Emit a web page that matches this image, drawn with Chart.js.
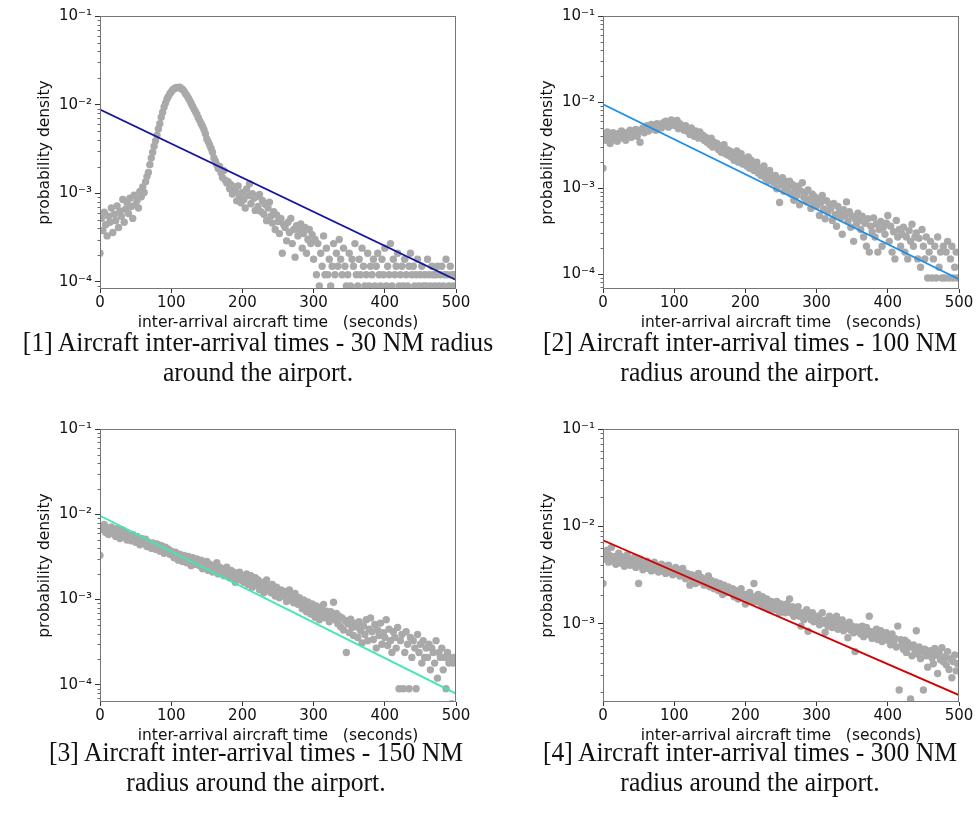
<!DOCTYPE html>
<html>
<head>
<meta charset="utf-8">
<script src="https://cdn.jsdelivr.net/npm/chart.js@4.4.0/dist/chart.umd.min.js"></script>
<style>
  body { margin: 0; background: #fff; }
  #page { position: relative; width: 978px; height: 822px; overflow: hidden; background: #fff; }
  .panel { position: absolute; width: 475px; height: 340px; }
  .caption {
    position: absolute; width: 600px; text-align: center; white-space: nowrap;
    font-family: "Liberation Serif", serif; font-size: 27px; line-height: 30px; color: #111;
    transform: scaleX(0.95);
  }
</style>
</head>
<body>
<div id="page">
  <div class="panel" style="left:0;top:0"><canvas id="radius30" width="475" height="340"></canvas></div>
  <div class="panel" style="left:503px;top:0"><canvas id="radius100" width="475" height="340"></canvas></div>
  <div class="panel" style="left:0;top:413px"><canvas id="radius150" width="475" height="340"></canvas></div>
  <div class="panel" style="left:503px;top:413px"><canvas id="radius300" width="475" height="340"></canvas></div>

  <div class="caption" style="left:-42px;top:327px">[1] Aircraft inter-arrival times - 30 NM radius<br>around the airport.</div>
  <div class="caption" style="left:450px;top:327px">[2] Aircraft inter-arrival times - 100 NM<br>radius around the airport.</div>
  <div class="caption" style="left:-44px;top:737px">[3] Aircraft inter-arrival times - 150 NM<br>radius around the airport.</div>
  <div class="caption" style="left:450px;top:737px">[4] Aircraft inter-arrival times - 300 NM<br>radius around the airport.</div>
</div>

<script>
// bin start times (seconds)
const seconds = [
    0, 2, 4, 6, 8, 10, 12, 14, 16, 18,
    20, 22, 24, 26, 28, 30, 32, 34, 36, 38,
    40, 42, 44, 46, 48, 50, 52, 54, 56, 58,
    60, 62, 64, 66, 68, 70, 72, 74, 76, 78,
    80, 82, 84, 86, 88, 90, 92, 94, 96, 98,
    100, 102, 104, 106, 108, 110, 112, 114, 116, 118,
    120, 122, 124, 126, 128, 130, 132, 134, 136, 138,
    140, 142, 144, 146, 148, 150, 152, 154, 156, 158,
    160, 162, 164, 166, 168, 170, 172, 174, 176, 178,
    180, 182, 184, 186, 188, 190, 192, 194, 196, 198,
    200, 202, 204, 206, 208, 210, 212, 214, 216, 218,
    220, 222, 224, 226, 228, 230, 232, 234, 236, 238,
    240, 242, 244, 246, 248, 250, 252, 254, 256, 258,
    260, 262, 264, 266, 268, 270, 272, 274, 276, 278,
    280, 282, 284, 286, 288, 290, 292, 294, 296, 298,
    300, 302, 304, 306, 308, 310, 312, 314, 316, 318,
    320, 322, 324, 326, 328, 330, 332, 334, 336, 338,
    340, 342, 344, 346, 348, 350, 352, 354, 356, 358,
    360, 362, 364, 366, 368, 370, 372, 374, 376, 378,
    380, 382, 384, 386, 388, 390, 392, 394, 396, 398,
    400, 402, 404, 406, 408, 410, 412, 414, 416, 418,
    420, 422, 424, 426, 428, 430, 432, 434, 436, 438,
    440, 442, 444, 446, 448, 450, 452, 454, 456, 458,
    460, 462, 464, 466, 468, 470, 472, 474, 476, 478,
    480, 482, 484, 486, 488, 490, 492, 494, 496, 498
];

// probability density per bin, 30 NM radius
const density30 = [
    0.00021, 0.00052, 0.00038, 0.00061, 0.00044, 0.00033, 0.00055, 0.00047, 0.00068, 0.00036,
    0.00058, 0.00049, 0.00072, 0.00041, 0.00063, 0.00055, 0.00085, 0.00047, 0.00066, 0.00078,
    0.00059, 0.00088, 0.00071, 0.00052, 0.00095, 0.00074, 0.00083, 0.00068, 0.00105, 0.00091,
    0.00118, 0.00102, 0.00135, 0.00155, 0.00172, 0.0021, 0.0025, 0.0029, 0.0034, 0.0039,
    0.0045, 0.0053, 0.0061, 0.0072, 0.0082, 0.0094, 0.0104, 0.0115, 0.0124, 0.0133,
    0.0139, 0.0146, 0.0151, 0.0154, 0.0156, 0.0155, 0.0157, 0.0152, 0.0148, 0.0142,
    0.0133, 0.0127, 0.0119, 0.0111, 0.0103, 0.0096, 0.0089, 0.0083, 0.0078, 0.0071,
    0.0066, 0.0061, 0.0057, 0.0052, 0.0047, 0.0041, 0.0038, 0.0035, 0.0032, 0.0029,
    0.0025, 0.0023, 0.0021, 0.0019, 0.0020, 0.0017, 0.0015, 0.0018, 0.0014, 0.0013,
    0.00135, 0.00112, 0.00125, 0.00098, 0.00118, 0.00105, 0.00082, 0.00121, 0.00092, 0.00078,
    0.00102, 0.00085, 0.00068, 0.00112, 0.00094, 0.00128, 0.00076, 0.00099, 0.00088, 0.00064,
    0.00092, 0.00071, 0.00097, 0.00062, 0.00083, 0.00058, 0.00075, 0.00049, 0.00068, 0.00079,
    0.00055, 0.00046, 0.00062, 0.00039, 0.00057, 0.00048, 0.00035, 0.00052, 0.00021, 0.00044,
    0.00041, 0.00029, 0.00047, 0.00036, 0.00052, 0.00027, 0.00039, 0.00019, 0.00043, 0.00033,
    0.00038, 0.00045, 0.00024, 0.00035, 0.00041, 0.00021, 0.00030, 0.00039, 0.00027, 0.00034,
    0.00018, 0.00030, 0.00012, 0.00027, 0.00009, 0.00021, 0.00015, 0.00033, 0.00012, 0.00024,
    0.00012, 0.00018, 0.00009, 0.00015, 0.00027, 0.00012, 0.00021, 0.00015, 0.00030, 0.00018,
    0.00012, 0.00024, 0.00015, 0.00009, 0.00012, 0.00021, 0.00009, 0.00018, 0.00015, 0.00027,
    0.00012, 0.00009, 0.00018, 0.00012, 0.00024, 0.00015, 0.00009, 0.00012, 0.00021, 0.00009,
    0.00015, 0.00012, 0.00018, 0.00009, 0.00015, 0.00021, 0.00012, 0.00009, 0.00018, 0.00012,
    0.00024, 0.00009, 0.00015, 0.00012, 0.00027, 0.00009, 0.00018, 0.00012, 0.00015, 0.00021,
    0.00009, 0.00012, 0.00015, 0.00009, 0.00018, 0.00012, 0.00009, 0.00015, 0.00021, 0.00012,
    0.00015, 0.00009, 0.00012, 0.00018, 0.00009, 0.00012, 0.00015, 0.00009, 0.00012, 0.00009,
    0.00018, 0.00012, 0.00009, 0.00015, 0.00012, 0.00009, 0.00012, 0.00015, 0.00009, 0.00012,
    0.00015, 0.00009, 0.00012, 0.00018, 0.00012, 0.00009, 0.00015, 0.00012, 0.00009, 0.00012
];

// 100 NM radius
const density100 = [
    0.0017, 0.0042, 0.0036, 0.0045, 0.0039, 0.0033, 0.0041, 0.0044, 0.0037, 0.0042,
    0.0035, 0.0043, 0.0040, 0.0046, 0.0038, 0.0042, 0.0036, 0.0044, 0.0041, 0.0047,
    0.0039, 0.0044, 0.0042, 0.0048, 0.0040, 0.0045, 0.0034, 0.0047, 0.0050, 0.0044,
    0.0049, 0.0053, 0.0046, 0.0051, 0.0055, 0.0049, 0.0053, 0.0047, 0.0056, 0.0052,
    0.0054, 0.0050, 0.0057, 0.0053, 0.0060, 0.0055, 0.0051, 0.0058, 0.0062, 0.0054,
    0.0059, 0.0053, 0.0061, 0.0049, 0.0056, 0.0052, 0.0050, 0.0047, 0.0053, 0.0046,
    0.0048, 0.0042, 0.0050, 0.0044, 0.0040, 0.0046, 0.0041, 0.0038, 0.0045, 0.0039,
    0.0041, 0.0036, 0.0039, 0.0034, 0.0037, 0.0032, 0.0038, 0.0030, 0.0034, 0.0031,
    0.0033, 0.0028, 0.0031, 0.0026, 0.0029, 0.0032, 0.0025, 0.0028, 0.0024, 0.0027,
    0.0023, 0.0026, 0.0021, 0.0024, 0.0027, 0.0020, 0.0022, 0.0025, 0.0019, 0.0022,
    0.0020, 0.0018, 0.0023, 0.0017, 0.0021, 0.0019, 0.0016, 0.0018, 0.0020, 0.0015,
    0.0017, 0.0014, 0.0016, 0.0018, 0.0013, 0.0015, 0.0012, 0.0016, 0.0014, 0.0013,
    0.00115, 0.0014, 0.00098, 0.00125, 0.00068, 0.0011, 0.00132, 0.00092, 0.0012, 0.00105,
    0.00095, 0.0012, 0.00085, 0.0011, 0.00072, 0.00098, 0.00082, 0.00105, 0.00064, 0.00092,
    0.00115, 0.00078, 0.00088, 0.00069, 0.00095, 0.00074, 0.00058, 0.00085, 0.00066, 0.00079,
    0.00062, 0.00075, 0.00048, 0.00068, 0.00082, 0.00057, 0.00044, 0.00071, 0.00053, 0.00065,
    0.00058, 0.00042, 0.00066, 0.00049, 0.00036, 0.00061, 0.00052, 0.00045, 0.00029, 0.00056,
    0.00048, 0.00069, 0.00041, 0.00053, 0.00035, 0.00047, 0.00024, 0.00044, 0.00038, 0.00051,
    0.00042, 0.00033, 0.00047, 0.00027, 0.00039, 0.00021, 0.00044, 0.00018, 0.00036, 0.00031,
    0.00045, 0.00027, 0.00038, 0.00018, 0.00033, 0.00041, 0.00021, 0.00035, 0.00029, 0.00039,
    0.00048, 0.00024, 0.00036, 0.00018, 0.00031, 0.00015, 0.00042, 0.00027, 0.00033, 0.00021,
    0.00029, 0.00035, 0.00018, 0.00027, 0.00015, 0.00032, 0.00024, 0.00038, 0.00021, 0.00027,
    0.00030, 0.00015, 0.00026, 0.00012, 0.00033, 0.00021, 0.00015, 0.00027, 0.00009, 0.00018,
    0.00024, 0.00009, 0.00015, 0.00021, 0.00009, 0.00027, 0.00012, 0.00018, 0.00009, 0.00021,
    0.00009, 0.00018, 0.00024, 0.00009, 0.00015, 0.00021, 0.00009, 0.00012, 0.00018, 0.00009
];

// 150 NM radius
const density150 = [
    0.0033, 0.0072, 0.0066, 0.0076, 0.0061, 0.0069, 0.0058, 0.0064, 0.0071, 0.0060,
    0.0063, 0.0055, 0.0068, 0.0059, 0.0052, 0.0062, 0.0065, 0.0054, 0.0060, 0.0050,
    0.0057, 0.0053, 0.0049, 0.0058, 0.0051, 0.0047, 0.0055, 0.0050, 0.0044, 0.0052,
    0.0048, 0.0045, 0.0051, 0.0042, 0.0047, 0.0044, 0.0040, 0.0046, 0.0043, 0.0039,
    0.0045, 0.0041, 0.0037, 0.0043, 0.0039, 0.0035, 0.0041, 0.0036, 0.0039, 0.0034,
    0.0037, 0.0033, 0.0031, 0.0036, 0.0032, 0.0029, 0.0034, 0.0031, 0.0028, 0.0033,
    0.0030, 0.0027, 0.0032, 0.0029, 0.0025, 0.0031, 0.0028, 0.0026, 0.0030, 0.0027,
    0.0025, 0.0029, 0.0023, 0.0027, 0.0024, 0.0028, 0.0022, 0.0026, 0.0024, 0.0021,
    0.0025, 0.0022, 0.0027, 0.0020, 0.0024, 0.0021, 0.0023, 0.0019, 0.0022, 0.0024,
    0.0020, 0.0018, 0.0022, 0.0019, 0.0021, 0.0016, 0.0020, 0.0018, 0.0021, 0.0017,
    0.0019, 0.0016, 0.0018, 0.0020, 0.0015, 0.0017, 0.0019, 0.0014, 0.0016, 0.0018,
    0.0015, 0.0017, 0.0013, 0.0016, 0.0014, 0.0012, 0.0015, 0.0017, 0.0013, 0.0014,
    0.0012, 0.0015, 0.0013, 0.0011, 0.0014, 0.0012, 0.00105, 0.0013, 0.0011, 0.00125,
    0.00115, 0.00095, 0.0012, 0.0013, 0.00102, 0.0011, 0.00092, 0.00118, 0.00098, 0.00088,
    0.00105, 0.00092, 0.00078, 0.00099, 0.00085, 0.00072, 0.00094, 0.00081, 0.00068, 0.00089,
    0.00076, 0.00062, 0.00084, 0.00071, 0.00058, 0.00079, 0.00067, 0.00088, 0.00061, 0.00073,
    0.00066, 0.00055, 0.00072, 0.00063, 0.00093, 0.00058, 0.00069, 0.00052, 0.00064, 0.00048,
    0.00061, 0.00044, 0.00057, 0.00024, 0.00052, 0.00041, 0.00059, 0.00047, 0.00038, 0.00053,
    0.00048, 0.00036, 0.00055, 0.00043, 0.00031, 0.00049, 0.00039, 0.00058, 0.00033, 0.00045,
    0.00061, 0.00042, 0.00034, 0.00051, 0.00027, 0.00044, 0.00038, 0.00053, 0.00030, 0.00041,
    0.00036, 0.00058, 0.00029, 0.00045, 0.00033, 0.00024, 0.00042, 0.00036, 0.00027, 0.00047,
    0.00009, 0.00033, 0.00039, 0.00009, 0.00024, 0.00042, 0.00030, 0.00009, 0.00036, 0.00021,
    0.00033, 0.00027, 0.00009, 0.00039, 0.00024, 0.00030, 0.00018, 0.00033, 0.00021, 0.00027,
    0.00021, 0.00030, 0.00015, 0.00027, 0.00024, 0.00018, 0.00033, 0.00012, 0.00024, 0.00021,
    0.00027, 0.00015, 0.00021, 0.00009, 0.00024, 0.00018, 0.00021, 0.00006, 0.00018, 0.00021
];

// 300 NM radius
const density300 = [
    0.0026, 0.0052, 0.0046, 0.0057, 0.0043, 0.0050, 0.0061, 0.0045, 0.0049, 0.0041,
    0.0047, 0.0053, 0.0042, 0.0049, 0.0044, 0.0039, 0.0046, 0.0051, 0.0043, 0.0040,
    0.0045, 0.0041, 0.0048, 0.0038, 0.0043, 0.0026, 0.0046, 0.0040, 0.0036, 0.0042,
    0.0039, 0.0044, 0.0037, 0.0041, 0.0035, 0.0040, 0.0043, 0.0036, 0.0039, 0.0034,
    0.0038, 0.0041, 0.0035, 0.0039, 0.0033, 0.0037, 0.0040, 0.0034, 0.0036, 0.0032,
    0.0035, 0.0038, 0.0033, 0.0036, 0.0031, 0.0034, 0.0037, 0.0032, 0.0029, 0.0033,
    0.0030, 0.0025, 0.0032, 0.0028, 0.0031, 0.0026, 0.0029, 0.0033, 0.0027, 0.0030,
    0.0028, 0.0025, 0.0029, 0.0027, 0.0031, 0.0024, 0.0028, 0.0026, 0.0023, 0.0027,
    0.0025, 0.0022, 0.0026, 0.0024, 0.0020, 0.0025, 0.0023, 0.0021, 0.0024, 0.0022,
    0.0021, 0.0023, 0.0019, 0.0022, 0.0020, 0.0018, 0.0021, 0.0023, 0.0019, 0.0020,
    0.0016, 0.0020, 0.0018, 0.0021, 0.0019, 0.0017, 0.0026, 0.0019, 0.0017, 0.0020,
    0.0018, 0.0016, 0.0019, 0.0015, 0.0017, 0.0018, 0.0016, 0.0014, 0.0017, 0.0015,
    0.0016, 0.0014, 0.0017, 0.0015, 0.0013, 0.0016, 0.0014, 0.0015, 0.0013, 0.0016,
    0.0014, 0.0018, 0.0013, 0.0015, 0.0012, 0.0014, 0.0013, 0.0015, 0.0012, 0.00095,
    0.0013, 0.0011, 0.0012, 0.0014, 0.00084, 0.0012, 0.0011, 0.0013, 0.00105, 0.0012,
    0.0011, 0.0012, 0.00098, 0.0011, 0.0013, 0.00102, 0.00082, 0.0011, 0.00095, 0.0012,
    0.00105, 0.00092, 0.0011, 0.00098, 0.0012, 0.00088, 0.00102, 0.00094, 0.0011, 0.00085,
    0.00098, 0.00091, 0.00072, 0.00104, 0.00086, 0.00095, 0.00081, 0.00052, 0.00093, 0.00084,
    0.00088, 0.00079, 0.00095, 0.00074, 0.00086, 0.00092, 0.00078, 0.0012, 0.00083, 0.00071,
    0.00082, 0.00075, 0.00088, 0.00069, 0.00079, 0.00085, 0.00066, 0.00077, 0.00072, 0.00081,
    0.00068, 0.00074, 0.00061, 0.00079, 0.00065, 0.00071, 0.00058, 0.00095, 0.00021, 0.00069,
    0.00062, 0.00055, 0.00068, 0.00051, 0.00064, 0.00058, 0.00017, 0.00047, 0.00061, 0.00054,
    0.00085, 0.00049, 0.00058, 0.00044, 0.00052, 0.00021, 0.00055, 0.00047, 0.00036, 0.00051,
    0.00053, 0.00045, 0.00039, 0.00056, 0.00048, 0.00031, 0.00051, 0.00043, 0.00057, 0.00041,
    0.00046, 0.00038, 0.00052, 0.00034, 0.00044, 0.00028, 0.00041, 0.00048, 0.00033, 0.00039
];

// exponential fits, evaluated at the ends of the time range
const fitSeconds = [0, 500];
const fit30 = [0.0088, 0.000105];
const fit100 = [0.0094, 0.000087];
const fit150 = [0.0096, 0.000079];
const fit300 = [0.0072, 0.000186];

const xTicks = [0, 100, 200, 300, 400, 500];
const decadeValues = [0.0001, 0.001, 0.01, 0.1];
const decadeLabels = ['10⁻⁴', '10⁻³', '10⁻²', '10⁻¹'];

const tickFont = { family: 'DejaVu Sans', size: 15 };
const titleFont = { family: 'DejaVu Sans', size: 15.5 };

// box around the plot area plus the short minor ticks of the log axis
const axesFrame = {
    id: 'axesFrame',
    afterDraw(chart) {
        const { ctx, chartArea: a } = chart;
        const y = chart.scales.y;
        ctx.save();
        ctx.strokeStyle = '#444';
        ctx.lineWidth = 0.8;
        y.ticks.forEach(t => {
            if (t.major) return;
            const py = Math.round(y.getPixelForValue(t.value)) + 0.5;
            ctx.beginPath();
            ctx.moveTo(a.left - 2.5, py);
            ctx.lineTo(a.left, py);
            ctx.stroke();
        });
        ctx.strokeStyle = '#767676';
        ctx.lineWidth = 1;
        ctx.strokeRect(a.left + 0.5, a.top + 0.5, a.right - a.left - 1, a.bottom - a.top - 1);
        ctx.restore();
    }
};

function decadeLabel(value) {
    const i = decadeValues.findIndex(d => Math.abs(d - value) / d < 1e-6);
    return i < 0 ? '' : decadeLabels[i];
}

function drawPanel(id, density, fit, lineColor, yMin) {
    const ctx = document.getElementById(id).getContext('2d');
    const points = seconds.map((t, i) => ({ x: t, y: density[i] }));
    const line = fitSeconds.map((t, i) => ({ x: t, y: fit[i] }));

    new Chart(ctx, {
        type: 'scatter',
        data: {
            datasets: [{
                data: line,
                showLine: true,
                borderColor: lineColor,
                borderWidth: 1.8,
                pointRadius: 0,
                clip: 0,
                order: 1
            }, {
                data: points,
                pointRadius: 3.7,
                pointHoverRadius: 3.7,
                pointBackgroundColor: '#a9a9a9',
                pointBorderWidth: 0,
                clip: 0,
                order: 2
            }]
        },
        options: {
            responsive: false,
            animation: false,
            events: [],
            layout: { padding: { top: 16, right: 19, bottom: 0, left: 0 } },
            plugins: { legend: { display: false }, tooltip: { enabled: false } },
            scales: {
                x: {
                    type: 'linear',
                    min: 0,
                    max: 500,
                    afterBuildTicks: scale => { scale.ticks = xTicks.map(v => ({ value: v })); },
                    afterFit: scale => { scale.height = 51; },
                    grid: { display: true, drawOnChartArea: false, tickLength: 4, tickColor: '#333' },
                    border: { display: false },
                    ticks: { autoSkip: false, maxRotation: 0, padding: 1, color: '#111', font: tickFont },
                    title: {
                        display: true,
                        text: 'inter-arrival aircraft time   (seconds)',
                        color: '#111',
                        font: titleFont,
                        padding: { top: 0, bottom: 7.7 }
                    }
                },
                y: {
                    type: 'logarithmic',
                    min: yMin,
                    max: 0.1,
                    afterBuildTicks: scale => {
                        const ticks = [];
                        for (let e = -5; e <= -1; e++) {
                            for (let k = 1; k <= 9; k++) {
                                const v = k * Math.pow(10, e);
                                if (v >= scale.min && v <= scale.max * 1.0001) ticks.push({ value: v, major: k === 1 });
                            }
                        }
                        scale.ticks = ticks;
                    },
                    afterFit: scale => { scale.width = 100; },
                    grid: {
                        display: true,
                        drawOnChartArea: false,
                        tickLength: 5,
                        tickColor: c => (c.tick && c.tick.major) ? '#333' : 'rgba(0,0,0,0)'
                    },
                    border: { display: false },
                    ticks: { autoSkip: false, padding: 3, color: '#111', font: tickFont, callback: v => decadeLabel(v) },
                    title: {
                        display: true,
                        text: 'probability density',
                        color: '#111',
                        font: titleFont,
                        padding: { top: 35.7, bottom: 0 }
                    }
                }
            }
        },
        plugins: [axesFrame]
    });
}

drawPanel('radius30', density30, fit30, '#1414a0', 0.000083);
drawPanel('radius100', density100, fit100, '#1e8fe6', 0.000067);
drawPanel('radius150', density150, fit150, '#40e8b0', 0.000063);
drawPanel('radius300', density300, fit300, '#d40000', 0.000158);
</script>
</body>
</html>
